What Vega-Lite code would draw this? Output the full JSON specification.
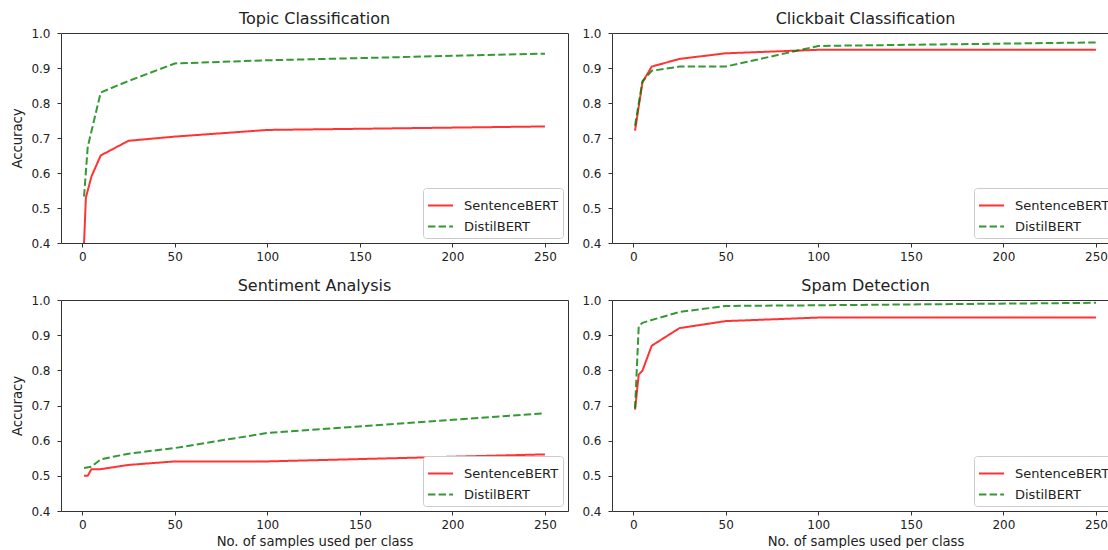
{
  "$schema": "https://vega.github.io/schema/vega-lite/v6.json",
  "padding": {"left": 10, "top": 10, "right": 0, "bottom": 0},
  "background": "white",
  "datasets": {
    "acc": [
      {"task": "Topic Classification", "model": "SentenceBERT", "n": 1, "acc": 0.40},
      {"task": "Topic Classification", "model": "SentenceBERT", "n": 2, "acc": 0.53},
      {"task": "Topic Classification", "model": "SentenceBERT", "n": 5, "acc": 0.59},
      {"task": "Topic Classification", "model": "SentenceBERT", "n": 10, "acc": 0.65},
      {"task": "Topic Classification", "model": "SentenceBERT", "n": 25, "acc": 0.692},
      {"task": "Topic Classification", "model": "SentenceBERT", "n": 50, "acc": 0.704},
      {"task": "Topic Classification", "model": "SentenceBERT", "n": 100, "acc": 0.723},
      {"task": "Topic Classification", "model": "SentenceBERT", "n": 250, "acc": 0.733},
      {"task": "Topic Classification", "model": "DistilBERT", "n": 1, "acc": 0.533},
      {"task": "Topic Classification", "model": "DistilBERT", "n": 3, "acc": 0.675},
      {"task": "Topic Classification", "model": "DistilBERT", "n": 10, "acc": 0.83},
      {"task": "Topic Classification", "model": "DistilBERT", "n": 25, "acc": 0.863},
      {"task": "Topic Classification", "model": "DistilBERT", "n": 50, "acc": 0.913},
      {"task": "Topic Classification", "model": "DistilBERT", "n": 100, "acc": 0.922},
      {"task": "Topic Classification", "model": "DistilBERT", "n": 250, "acc": 0.941},
      {"task": "Clickbait Classification", "model": "SentenceBERT", "n": 1, "acc": 0.721},
      {"task": "Clickbait Classification", "model": "SentenceBERT", "n": 5, "acc": 0.859},
      {"task": "Clickbait Classification", "model": "SentenceBERT", "n": 10, "acc": 0.904},
      {"task": "Clickbait Classification", "model": "SentenceBERT", "n": 25, "acc": 0.926},
      {"task": "Clickbait Classification", "model": "SentenceBERT", "n": 50, "acc": 0.942},
      {"task": "Clickbait Classification", "model": "SentenceBERT", "n": 100, "acc": 0.952},
      {"task": "Clickbait Classification", "model": "SentenceBERT", "n": 250, "acc": 0.952},
      {"task": "Clickbait Classification", "model": "DistilBERT", "n": 1, "acc": 0.735},
      {"task": "Clickbait Classification", "model": "DistilBERT", "n": 5, "acc": 0.862},
      {"task": "Clickbait Classification", "model": "DistilBERT", "n": 10, "acc": 0.892},
      {"task": "Clickbait Classification", "model": "DistilBERT", "n": 25, "acc": 0.904},
      {"task": "Clickbait Classification", "model": "DistilBERT", "n": 50, "acc": 0.904},
      {"task": "Clickbait Classification", "model": "DistilBERT", "n": 100, "acc": 0.963},
      {"task": "Clickbait Classification", "model": "DistilBERT", "n": 250, "acc": 0.973},
      {"task": "Sentiment Analysis", "model": "SentenceBERT", "n": 1, "acc": 0.50},
      {"task": "Sentiment Analysis", "model": "SentenceBERT", "n": 3, "acc": 0.50},
      {"task": "Sentiment Analysis", "model": "SentenceBERT", "n": 5, "acc": 0.519},
      {"task": "Sentiment Analysis", "model": "SentenceBERT", "n": 10, "acc": 0.519},
      {"task": "Sentiment Analysis", "model": "SentenceBERT", "n": 25, "acc": 0.531},
      {"task": "Sentiment Analysis", "model": "SentenceBERT", "n": 50, "acc": 0.541},
      {"task": "Sentiment Analysis", "model": "SentenceBERT", "n": 100, "acc": 0.541},
      {"task": "Sentiment Analysis", "model": "SentenceBERT", "n": 250, "acc": 0.561},
      {"task": "Sentiment Analysis", "model": "DistilBERT", "n": 1, "acc": 0.522},
      {"task": "Sentiment Analysis", "model": "DistilBERT", "n": 5, "acc": 0.526},
      {"task": "Sentiment Analysis", "model": "DistilBERT", "n": 10, "acc": 0.547},
      {"task": "Sentiment Analysis", "model": "DistilBERT", "n": 25, "acc": 0.563},
      {"task": "Sentiment Analysis", "model": "DistilBERT", "n": 50, "acc": 0.579},
      {"task": "Sentiment Analysis", "model": "DistilBERT", "n": 100, "acc": 0.622},
      {"task": "Sentiment Analysis", "model": "DistilBERT", "n": 250, "acc": 0.678},
      {"task": "Spam Detection", "model": "SentenceBERT", "n": 1, "acc": 0.688},
      {"task": "Spam Detection", "model": "SentenceBERT", "n": 3, "acc": 0.788},
      {"task": "Spam Detection", "model": "SentenceBERT", "n": 5, "acc": 0.799},
      {"task": "Spam Detection", "model": "SentenceBERT", "n": 10, "acc": 0.870},
      {"task": "Spam Detection", "model": "SentenceBERT", "n": 25, "acc": 0.920},
      {"task": "Spam Detection", "model": "SentenceBERT", "n": 50, "acc": 0.940},
      {"task": "Spam Detection", "model": "SentenceBERT", "n": 100, "acc": 0.950},
      {"task": "Spam Detection", "model": "SentenceBERT", "n": 250, "acc": 0.950},
      {"task": "Spam Detection", "model": "DistilBERT", "n": 1, "acc": 0.692},
      {"task": "Spam Detection", "model": "DistilBERT", "n": 3, "acc": 0.926},
      {"task": "Spam Detection", "model": "DistilBERT", "n": 5, "acc": 0.935},
      {"task": "Spam Detection", "model": "DistilBERT", "n": 10, "acc": 0.943},
      {"task": "Spam Detection", "model": "DistilBERT", "n": 25, "acc": 0.966},
      {"task": "Spam Detection", "model": "DistilBERT", "n": 50, "acc": 0.983},
      {"task": "Spam Detection", "model": "DistilBERT", "n": 100, "acc": 0.985},
      {"task": "Spam Detection", "model": "DistilBERT", "n": 250, "acc": 0.992}
    ]
  },
  "data": {"name": "acc"},
  "columns": 2,
  "bounds": "flush",
  "spacing": {"column": 44, "row": 57},
  "resolve": {"legend": {"color": "independent", "strokeDash": "independent"}, "scale": {"color": "independent", "strokeDash": "independent"}},
  "concat": [
    {
      "title": "Topic Classification",
      "width": 507, "height": 210,
      "transform": [{"filter": "datum.task === 'Topic Classification'"}],
      "mark": {"type": "line", "strokeWidth": 2, "opacity": 0.8},
      "encoding": {
        "x": {"field": "n", "type": "quantitative", "scale": {"domain": [-11.45, 262.45], "nice": false, "zero": false}, "axis": {"values": [0, 50, 100, 150, 200, 250], "title": null}},
        "y": {"field": "acc", "type": "quantitative", "scale": {"domain": [0.4, 1.0], "nice": false, "zero": false}, "axis": {"values": [0.4, 0.5, 0.6, 0.7, 0.8, 0.9, 1.0], "format": ".1f", "title": "Accuracy"}},
        "color": {"field": "model", "type": "nominal", "scale": {"domain": ["SentenceBERT", "DistilBERT"], "range": ["#ff0000", "#008000"]}, "legend": {"title": null}},
        "strokeDash": {"field": "model", "type": "nominal", "scale": {"domain": ["SentenceBERT", "DistilBERT"], "range": [[1, 0], [7.4, 3.2]]}, "legend": {"title": null}}
      }
    },
    {
      "title": "Clickbait Classification",
      "width": 507, "height": 210,
      "transform": [{"filter": "datum.task === 'Clickbait Classification'"}],
      "mark": {"type": "line", "strokeWidth": 2, "opacity": 0.8},
      "encoding": {
        "x": {"field": "n", "type": "quantitative", "scale": {"domain": [-11.45, 262.45], "nice": false, "zero": false}, "axis": {"values": [0, 50, 100, 150, 200, 250], "title": null}},
        "y": {"field": "acc", "type": "quantitative", "scale": {"domain": [0.4, 1.0], "nice": false, "zero": false}, "axis": {"values": [0.4, 0.5, 0.6, 0.7, 0.8, 0.9, 1.0], "format": ".1f", "title": null}},
        "color": {"field": "model", "type": "nominal", "scale": {"domain": ["SentenceBERT", "DistilBERT"], "range": ["#ff0000", "#008000"]}, "legend": {"title": null}},
        "strokeDash": {"field": "model", "type": "nominal", "scale": {"domain": ["SentenceBERT", "DistilBERT"], "range": [[1, 0], [7.4, 3.2]]}, "legend": {"title": null}}
      }
    },
    {
      "title": "Sentiment Analysis",
      "width": 507, "height": 211,
      "transform": [{"filter": "datum.task === 'Sentiment Analysis'"}],
      "mark": {"type": "line", "strokeWidth": 2, "opacity": 0.8},
      "encoding": {
        "x": {"field": "n", "type": "quantitative", "scale": {"domain": [-11.45, 262.45], "nice": false, "zero": false}, "axis": {"values": [0, 50, 100, 150, 200, 250], "title": "No. of samples used per class"}},
        "y": {"field": "acc", "type": "quantitative", "scale": {"domain": [0.4, 1.0], "nice": false, "zero": false}, "axis": {"values": [0.4, 0.5, 0.6, 0.7, 0.8, 0.9, 1.0], "format": ".1f", "title": "Accuracy"}},
        "color": {"field": "model", "type": "nominal", "scale": {"domain": ["SentenceBERT", "DistilBERT"], "range": ["#ff0000", "#008000"]}, "legend": {"title": null}},
        "strokeDash": {"field": "model", "type": "nominal", "scale": {"domain": ["SentenceBERT", "DistilBERT"], "range": [[1, 0], [7.4, 3.2]]}, "legend": {"title": null}}
      }
    },
    {
      "title": "Spam Detection",
      "width": 507, "height": 211,
      "transform": [{"filter": "datum.task === 'Spam Detection'"}],
      "mark": {"type": "line", "strokeWidth": 2, "opacity": 0.8},
      "encoding": {
        "x": {"field": "n", "type": "quantitative", "scale": {"domain": [-11.45, 262.45], "nice": false, "zero": false}, "axis": {"values": [0, 50, 100, 150, 200, 250], "title": "No. of samples used per class"}},
        "y": {"field": "acc", "type": "quantitative", "scale": {"domain": [0.4, 1.0], "nice": false, "zero": false}, "axis": {"values": [0.4, 0.5, 0.6, 0.7, 0.8, 0.9, 1.0], "format": ".1f", "title": null}},
        "color": {"field": "model", "type": "nominal", "scale": {"domain": ["SentenceBERT", "DistilBERT"], "range": ["#ff0000", "#008000"]}, "legend": {"title": null}},
        "strokeDash": {"field": "model", "type": "nominal", "scale": {"domain": ["SentenceBERT", "DistilBERT"], "range": [[1, 0], [7.4, 3.2]]}, "legend": {"title": null}}
      }
    }
  ],
  "config": {
    "font": "DejaVu Sans",
    "view": {"stroke": "#333", "strokeWidth": 1},
    "title": {"fontSize": 16, "fontWeight": "normal", "color": "#222", "offset": 0.5, "font": "DejaVu Sans"},
    "axis": {
      "grid": false, "domain": false, "tickColor": "#333", "tickSize": 4, "tickWidth": 1,
      "labelFont": "DejaVu Sans", "labelFontSize": 12, "labelColor": "#222", "labelPadding": 4,
      "titleFont": "DejaVu Sans", "titleFontSize": 13.2, "titleFontWeight": "normal", "titleColor": "#222"
    },
    "axisY": {"labelPadding": 7, "titlePadding": 6},
    "axisX": {"labelPadding": 4, "titlePadding": 5},
    "legend": {
      "orient": "bottom-right", "offset": 5, "padding": 4, "strokeColor": "#ccc", "fillColor": "white",
      "cornerRadius": 3, "symbolType": "stroke", "symbolSize": 625, "symbolStrokeWidth": 2,
      "labelFont": "DejaVu Sans", "labelFontSize": 13, "labelColor": "#222", "rowPadding": -7, "symbolOpacity": 0.8, "labelOffset": 10
    }
  }
}
